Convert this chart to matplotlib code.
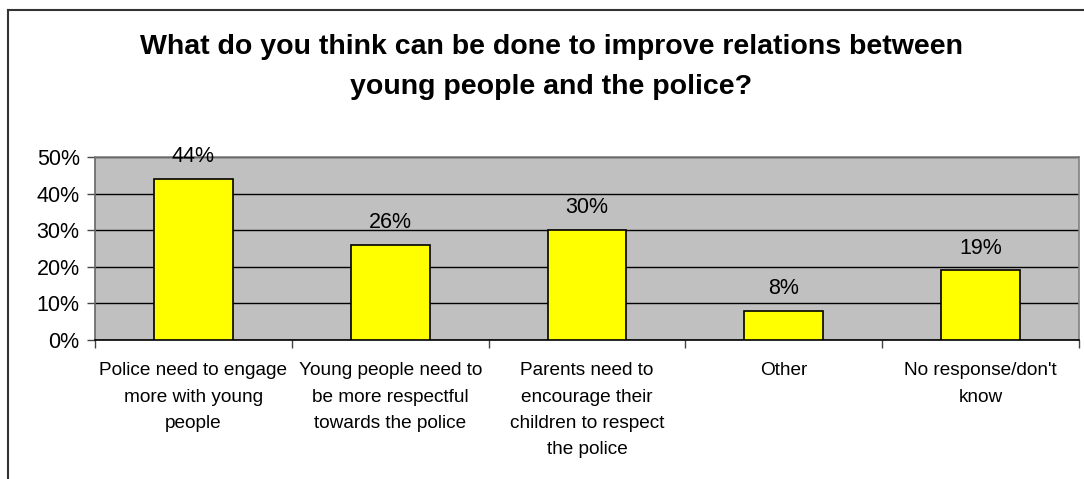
import matplotlib
matplotlib.use("Agg")
import matplotlib.pyplot as plt
from matplotlib.ticker import FixedLocator, PercentFormatter

plt.rcParams['font.family'] = ['Liberation Sans', 'DejaVu Sans']

title = "What do you think can be done to improve relations between\nyoung people and the police?"
categories = [
    "Police need to engage\nmore with young\npeople",
    "Young people need to\nbe more respectful\ntowards the police",
    "Parents need to\nencourage their\nchildren to respect\nthe police",
    "Other",
    "No response/don't\nknow",
]
values = [44, 26, 30, 8, 19]
y_ticks = [0, 10, 20, 30, 40, 50]

W, H = 1084, 479
fig = plt.figure(figsize=(W / 100, H / 100), dpi=100)

# outer chart frame (left and top edges visible)
fig.add_artist(plt.Line2D([8 / W, 8 / W], [0, 1 - 10 / H], color='#333333', lw=1.5))
fig.add_artist(plt.Line2D([8 / W, 1], [1 - 10 / H, 1 - 10 / H], color='#333333', lw=1.5))

left, right, top, bottom = 95, 1079, 157, 340
ax = fig.add_axes([left / W, 1 - bottom / H, (right - left) / W, (bottom - top) / H])
ax.set_facecolor('#C0C0C0')

x = list(range(len(categories)))
bars = ax.bar(x, values, width=0.4, color='#FFFF00', edgecolor='black', linewidth=1.2, zorder=3)

ax.set_xlim(-0.5, len(categories) - 0.5)
ax.set_ylim(0, 50)
ax.yaxis.set_major_locator(FixedLocator(y_ticks))
ax.yaxis.set_major_formatter(PercentFormatter(decimals=0))
ax.grid(axis='y', color='black', linewidth=1.0, zorder=1)
ax.set_axisbelow(True)

for side in ('top', 'right'):
    ax.spines[side].set_color('#808080')
    ax.spines[side].set_linewidth(1.2)
ax.spines['left'].set_color('#666666')
ax.spines['left'].set_linewidth(1.2)
ax.spines['bottom'].set_color('black')
ax.spines['bottom'].set_linewidth(1.2)

ax.tick_params(axis='y', length=6, width=1, color='#444444', labelsize=15.5, pad=5)
ax.set_xticks([i + 0.5 for i in range(-1, len(categories))])
ax.set_xticklabels([])
ax.tick_params(axis='x', length=6, width=1, color='#444444')

for i, lab in enumerate(categories):
    ax.annotate(lab, xy=(i, 0), xycoords=('data', 'axes fraction'),
                xytext=(0, -16), textcoords='offset points',
                ha='center', va='top', fontsize=13.7, linespacing=1.72)

for b, v in zip(bars, values):
    ax.annotate(f"{v}%", xy=(b.get_x() + b.get_width() / 2, v),
                xytext=(0, 8.5), textcoords='offset points',
                ha='center', va='bottom', fontsize=15.5)

fig.text(551 / W, 1 - 67 / H, title, ha='center', va='center',
         fontsize=20.5, fontweight='bold', linespacing=1.7)

fig.savefig('out.png', dpi=100)
